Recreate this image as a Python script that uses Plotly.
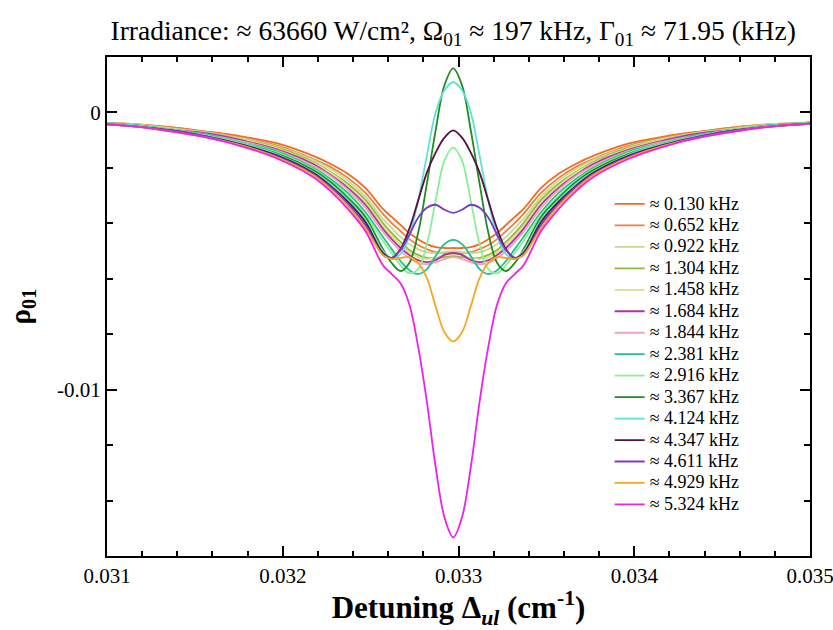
import plotly.graph_objects as go

# Detuning offsets from the line centre (cm^-1); curves are symmetric about CENTER
CENTER = 0.03297
offsets = [0, 0.00005, 0.0001, 0.00015, 0.0002, 0.00025, 0.0003, 0.00035, 0.0004,
           0.0005, 0.0006, 0.0007, 0.0008, 0.001, 0.0012, 0.0014, 0.0016, 0.0018, 0.00205]

labels = ["≈ 0.130 kHz", "≈ 0.652 kHz", "≈ 0.922 kHz", "≈ 1.304 kHz", "≈ 1.458 kHz",
          "≈ 1.684 kHz", "≈ 1.844 kHz", "≈ 2.381 kHz", "≈ 2.916 kHz", "≈ 3.367 kHz",
          "≈ 4.124 kHz", "≈ 4.347 kHz", "≈ 4.611 kHz", "≈ 4.929 kHz", "≈ 5.324 kHz"]

colors = ["#f26b21", "#f07c40", "#c9d88e", "#93b73a", "#d2e67e", "#b030b0", "#f5a3b4",
          "#1fc28a", "#86f095", "#228b22", "#62e0d6", "#5a1040", "#7a3ac8", "#f5a623", "#f020e8"]

# rho_01 half-profiles (units of 1e-4), one value per offset
rho_0130 = [-48.9, -48.9, -48.6, -47.5, -45.7, -43.5, -40.6, -37.7, -34.8, -27.2, -22.1, -18.5, -15.6, -11.2, -8.7, -6.9, -5.4, -4.3, -3.6]
rho_0652 = [-50.7, -50.7, -50.4, -49.3, -47.8, -45.7, -42.8, -39.9, -36.6, -29.0, -23.6, -19.6, -16.7, -12.0, -9.1, -7.2, -5.4, -4.3, -3.6]
rho_0922 = [-50.0, -50.4, -50.7, -50.4, -49.3, -47.5, -44.9, -41.7, -38.4, -30.4, -24.6, -20.3, -17.0, -12.3, -9.4, -7.2, -5.8, -4.3, -3.6]
rho_1304 = [-51.8, -52.2, -52.5, -52.5, -51.4, -49.6, -46.7, -43.5, -39.9, -31.5, -25.7, -21.4, -17.8, -12.7, -9.8, -7.6, -5.8, -4.7, -3.6]
rho_1458 = [-51.1, -51.4, -52.5, -52.9, -52.2, -50.4, -47.8, -44.6, -40.9, -32.6, -26.4, -21.7, -18.1, -13.0, -9.8, -7.6, -5.8, -4.7, -3.6]
rho_1684 = [-50.7, -51.4, -53.3, -54.0, -53.3, -51.4, -48.9, -45.7, -42.0, -33.3, -27.2, -22.5, -18.5, -13.4, -10.1, -7.6, -6.2, -4.7, -3.6]
rho_1844 = [-52.2, -52.9, -54.0, -54.7, -54.3, -52.5, -50.0, -46.7, -43.1, -34.4, -27.9, -22.8, -19.2, -13.8, -10.5, -8.0, -6.2, -4.7, -3.6]
rho_2381 = [-46.0, -47.5, -51.8, -56.5, -58.3, -56.9, -53.6, -49.3, -44.9, -35.9, -29.0, -23.9, -19.9, -14.1, -10.9, -8.0, -6.2, -4.7, -3.6]
rho_2916 = [-12.7, -17.4, -31.9, -47.5, -56.5, -58.0, -55.1, -50.7, -46.4, -37.0, -30.1, -24.6, -20.3, -14.5, -10.9, -8.3, -6.2, -4.7, -3.6]
rho_3367 = [15.9, 9.8, -6.5, -25.7, -43.5, -54.3, -57.2, -54.3, -49.3, -37.7, -30.8, -25.0, -20.7, -14.9, -11.2, -8.3, -6.5, -4.7, -4.0]
rho_4124 = [10.9, 8.0, 0.0, -15.6, -31.9, -44.6, -51.1, -52.5, -50.0, -38.8, -31.5, -25.7, -21.4, -15.2, -11.2, -8.3, -6.5, -4.7, -4.0]
rho_4347 = [-6.5, -9.1, -14.5, -21.7, -31.9, -42.0, -49.3, -52.5, -50.7, -39.5, -32.2, -26.4, -21.7, -15.6, -11.6, -8.7, -6.5, -5.1, -4.0]
rho_4611 = [-36.2, -35.1, -33.3, -34.4, -38.0, -44.2, -49.6, -52.5, -51.4, -40.6, -33.0, -26.8, -22.1, -15.9, -12.0, -8.7, -6.5, -5.1, -4.0]
rho_4929 = [-82.6, -79.3, -69.9, -59.8, -54.3, -52.2, -52.5, -52.9, -51.4, -41.7, -33.7, -27.5, -22.5, -16.3, -12.0, -9.1, -6.9, -5.1, -4.0]
rho_5324 = [-153.3, -146.0, -127.9, -104.3, -84.4, -69.2, -61.6, -58.3, -55.1, -42.8, -34.8, -28.3, -23.2, -16.7, -12.3, -9.1, -6.9, -5.1, -4.0]

series = [rho_0130, rho_0652, rho_0922, rho_1304, rho_1458, rho_1684, rho_1844, rho_2381,
          rho_2916, rho_3367, rho_4124, rho_4347, rho_4611, rho_4929, rho_5324]
UNIT = 1e-4

x_full = [CENTER - d for d in offsets[:0:-1]] + [CENTER + d for d in offsets]

fig = go.Figure()
for lab, col, half in zip(labels, colors, series):
    y_full = [v * UNIT for v in half[:0:-1]] + [v * UNIT for v in half]
    fig.add_trace(go.Scatter(x=x_full, y=y_full, mode="lines",
                             name='<span style="font-size:18px">' + lab + '</span>',
                             line=dict(color=col, width=1.8, shape="spline", smoothing=1.0)))

serif = "Liberation Serif, Times New Roman, serif"
fig.update_layout(
    width=833, height=630,
    margin=dict(l=107, r=23, t=57, b=74, autoexpand=False),
    paper_bgcolor="white", plot_bgcolor="white",
    font=dict(family=serif, color="black", size=21),
    title=dict(text="Irradiance: ≈ 63660 W/cm², Ω<sub>01</sub> ≈ 197 kHz, Γ<sub>01</sub> ≈ 71.95 (kHz)",
               x=0.544, xanchor="center", xref="container", y=0.951, yanchor="middle",
               font=dict(family=serif, size=27.5, color="black")),
    showlegend=True,
    legend=dict(x=0.715, y=0.737, xanchor="left", yanchor="top", bgcolor="rgba(0,0,0,0)",
                font=dict(family=serif, size=14.2, color="black"), tracegroupgap=0,
                itemwidth=30),
)
fig.update_xaxes(range=[0.031, 0.035], dtick=0.001, tick0=0.031, tickformat=".3f",
                 ticklabeloverflow="allow",
                 showgrid=False, zeroline=False, showline=True, linecolor="black", linewidth=2,
                 mirror="ticks", ticks="inside", ticklen=10, tickwidth=1.5, tickcolor="black",
                 minor=dict(dtick=0.0002, ticks="inside", ticklen=5, tickwidth=1.5, tickcolor="black"),
                 tickfont=dict(family=serif, size=21),
                 title=dict(text="<b>Detuning Δ<sub><i>ul</i></sub> (cm<sup>-1</sup>)</b>",
                            font=dict(family=serif, size=31), standoff=10))
fig.update_yaxes(range=[-0.016, 0.002], tickvals=[0, -0.01], ticktext=["0", "-0.01"],
                 ticklabeloverflow="allow",
                 showgrid=False, zeroline=False, showline=True, linecolor="black", linewidth=2,
                 mirror="ticks", ticks="inside", ticklen=10, tickwidth=1.5, tickcolor="black",
                 minor=dict(dtick=0.002, tick0=0, ticks="inside", ticklen=6, tickwidth=1.5, tickcolor="black"),
                 tickfont=dict(family=serif, size=21),
                 title=dict(text="<b>ρ<sub>01</sub></b>", font=dict(family=serif, size=29), standoff=18))

fig.write_html("out.html")
